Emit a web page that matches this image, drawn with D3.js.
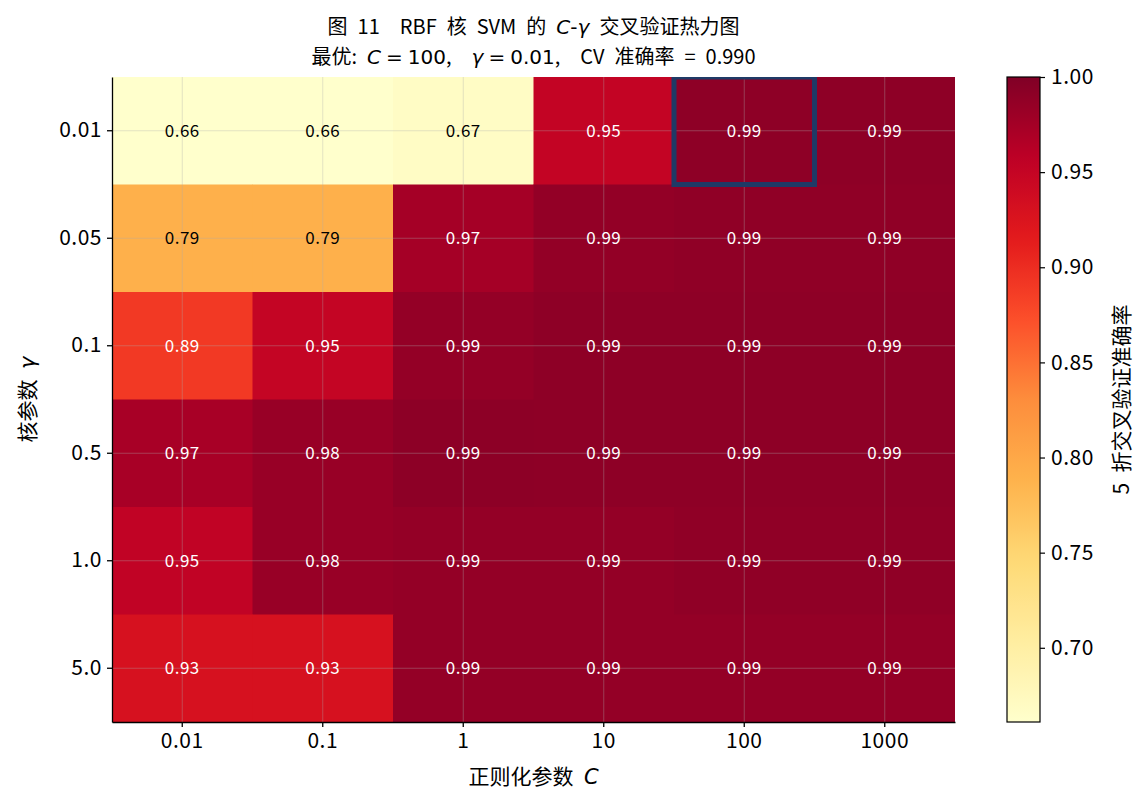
<!DOCTYPE html>
<html>
<head>
<meta charset="utf-8">
<script src="https://cdn.jsdelivr.net/npm/d3@7"></script>
<style>
  body { margin: 0; background: #fff; }
  svg { font-family: "Noto Sans CJK SC", "DejaVu Sans", sans-serif; }
  text { white-space: pre; }
  .math { font-family: "DejaVu Sans", sans-serif; }
</style>
</head>
<body>
<svg id="chart" width="1145" height="805"></svg>
<script>
// regularisation parameter C (columns) and kernel gamma (rows)
var cLabels = ['0.01', '0.1', '1', '10', '100', '1000'];
var gammaLabels = ['0.01', '0.05', '0.1', '0.5', '1.0', '5.0'];

// mean 5-fold CV accuracy, one array per gamma row
var scoreG001 = [0.661, 0.661, 0.668, 0.951, 0.990, 0.990];
var scoreG005 = [0.790, 0.790, 0.974, 0.987, 0.989, 0.989];
var scoreG01  = [0.890, 0.950, 0.986, 0.990, 0.990, 0.990];
var scoreG05  = [0.972, 0.983, 0.991, 0.990, 0.990, 0.990];
var scoreG1   = [0.953, 0.983, 0.986, 0.986, 0.989, 0.989];
var scoreG5   = [0.930, 0.930, 0.986, 0.986, 0.986, 0.986];

var colorbarTicks = [0.70, 0.75, 0.80, 0.85, 0.90, 0.95, 1.00];
var best = { c: '100', gamma: '0.01', score: 0.990 };

var scores = [scoreG001, scoreG005, scoreG01, scoreG05, scoreG1, scoreG5];

function heatmap(id) {

  var svg = d3.select('#' + id),
      margin = { top: 77, right: 190, bottom: 83, left: 112 },
      width = +svg.attr('width') - margin.left - margin.right,
      height = +svg.attr('height') - margin.top - margin.bottom,
      g = svg.append('g').attr('transform', 'translate(' + margin.left + ',' + margin.top + ')');

  var defs = svg.append('defs');
  defs.append('clipPath').attr('id', 'plotclip')
    .append('rect').attr('width', width).attr('height', height);

  var cells = [];
  scores.forEach(function (row, i) {
    row.forEach(function (v, j) {
      cells.push({ gamma: gammaLabels[i], c: cLabels[j], value: v });
    });
  });

  var vmin = d3.min(cells, function (d) { return d.value; }),
      vmax = 1.0;

  // YlOrRd, linear between the nine brewer stops
  var stops = ['#ffffcc', '#ffeda0', '#fed976', '#feb24c', '#fd8d3c', '#fc4e2a', '#e31a1c', '#bd0026', '#800026'];
  var color = d3.scaleLinear()
      .domain(stops.map(function (s, i) { return vmin + (vmax - vmin) * i / (stops.length - 1); }))
      .range(stops)
      .clamp(true);

  var x = d3.scaleBand().domain(cLabels).range([0, width]);
  var y = d3.scaleBand().domain(gammaLabels).range([0, height]);

  var plot = g.append('g').attr('clip-path', 'url(#plotclip)');

  plot.selectAll('rect.cell')
    .data(cells)
    .enter().append('rect')
      .attr('class', 'cell')
      .attr('x', function (d) { return x(d.c); })
      .attr('y', function (d) { return y(d.gamma); })
      .attr('width', x.bandwidth() + 0.5)
      .attr('height', y.bandwidth() + 0.5)
      .attr('fill', function (d) { return color(d.value); });

  // faint grid through cell centres
  var grid = plot.append('g')
      .attr('stroke', '#b0b0b0')
      .attr('stroke-opacity', 0.35)
      .attr('stroke-width', 1);
  grid.selectAll('line.vx')
    .data(cLabels)
    .enter().append('line')
      .attr('x1', function (d) { return x(d) + x.bandwidth() / 2; })
      .attr('x2', function (d) { return x(d) + x.bandwidth() / 2; })
      .attr('y1', 0)
      .attr('y2', height);
  grid.selectAll('line.hy')
    .data(gammaLabels)
    .enter().append('line')
      .attr('y1', function (d) { return y(d) + y.bandwidth() / 2; })
      .attr('y2', function (d) { return y(d) + y.bandwidth() / 2; })
      .attr('x1', 0)
      .attr('x2', width);

  plot.selectAll('text.val')
    .data(cells)
    .enter().append('text')
      .attr('class', 'val')
      .attr('x', function (d) { return x(d.c) + x.bandwidth() / 2; })
      .attr('y', function (d) { return y(d.gamma) + y.bandwidth() / 2; })
      .attr('dy', '0.36em')
      .attr('text-anchor', 'middle')
      .attr('font-size', 17)
      .attr('letter-spacing', 0.5)
      .attr('fill', function (d) { return d.value < 0.85 ? '#000' : '#fff'; })
      .text(function (d) { return d.value.toFixed(2); });

  // best cell outline
  plot.append('rect')
      .attr('x', x(best.c))
      .attr('y', y(best.gamma))
      .attr('width', x.bandwidth())
      .attr('height', y.bandwidth())
      .attr('fill', 'none')
      .attr('stroke', '#1f3a66')
      .attr('stroke-width', 5);

  var xAxis = g.append('g')
      .attr('transform', 'translate(0,' + height + ')')
      .call(d3.axisBottom(x).tickSizeInner(5).tickSizeOuter(0).tickPadding(6));
  var yAxis = g.append('g')
      .call(d3.axisLeft(y).tickSizeInner(5).tickSizeOuter(0).tickPadding(5));

  [xAxis, yAxis].forEach(function (ax) {
    ax.select('.domain').attr('stroke', '#000').attr('stroke-width', 1.3);
    ax.selectAll('.tick line').attr('stroke', '#000').attr('stroke-width', 1.3);
    ax.selectAll('.tick text')
        .attr('fill', '#000')
        .attr('font-size', 21)
        .attr('letter-spacing', 0.5)
        .attr('font-family', '"Noto Sans CJK SC", sans-serif');
  });

  var xl = g.append('text')
      .attr('x', width / 2)
      .attr('y', height + 55)
      .attr('dy', '0.35em')
      .attr('text-anchor', 'middle')
      .attr('font-size', 21)
      .text('正则化参数\u2002');
  xl.append('tspan').attr('class', 'math').attr('font-style', 'italic').text('C');

  var yl = g.append('text')
      .attr('transform', 'translate(' + (-84) + ',' + (height / 2) + ') rotate(-90)')
      .attr('dy', '0.35em')
      .attr('text-anchor', 'middle')
      .attr('font-size', 21)
      .text('核参数\u2002');
  yl.append('tspan').attr('class', 'math').attr('font-style', 'italic').text('γ');

  // title, two lines; mathtext parts in DejaVu Sans
  function mathEq(sel, sym, val) {
    sel.append('tspan').attr('class', 'math').attr('font-style', 'italic').text(sym);
    sel.append('tspan').attr('class', 'math').attr('dx', 5).text('=');
    sel.append('tspan').attr('class', 'math').attr('dx', 5).text(val);
  }

  var t1 = g.append('text')
      .attr('x', width / 2)
      .attr('y', -50)
      .attr('dy', '0.35em')
      .attr('text-anchor', 'middle')
      .attr('font-size', 20)
      .text('图\u200211\u2002\u2002RBF\u2002核\u2002SVM\u2002的\u2002');
  t1.append('tspan').attr('class', 'math').attr('font-style', 'italic').text('C');
  t1.append('tspan').attr('class', 'math').text('-');
  t1.append('tspan').attr('class', 'math').attr('font-style', 'italic').text('γ');
  t1.append('tspan').text('\u2002交叉验证热力图');

  var t2 = g.append('text')
      .attr('x', width / 2)
      .attr('y', -20)
      .attr('dy', '0.35em')
      .attr('text-anchor', 'middle')
      .attr('font-size', 20)
      .text('最优:\u2002');
  mathEq(t2, 'C', best.c);
  t2.append('tspan').text(',\u2002\u2002');
  mathEq(t2, 'γ', best.gamma);
  t2.append('tspan').text(',\u2002\u2002CV\u2002准确率\u2002=\u2002' + best.score.toFixed(3));

  // colorbar
  var cbX = 1007 - margin.left, cbW = 33;
  var cbScale = d3.scaleLinear().domain([vmin, vmax]).range([height, 0]);

  var grad = defs.append('linearGradient')
      .attr('id', 'cbgrad')
      .attr('x1', 0).attr('y1', 1).attr('x2', 0).attr('y2', 0);
  d3.range(0, 1.0001, 0.02).forEach(function (t) {
    grad.append('stop')
        .attr('offset', t)
        .attr('stop-color', color(vmin + (vmax - vmin) * t));
  });

  var cb = g.append('g').attr('transform', 'translate(' + cbX + ',0)');
  cb.append('rect')
      .attr('width', cbW)
      .attr('height', height)
      .attr('fill', 'url(#cbgrad)')
      .attr('stroke', '#000')
      .attr('stroke-width', 1.2);

  var cbAxis = cb.append('g')
      .attr('transform', 'translate(' + cbW + ',0)')
      .call(d3.axisRight(cbScale).tickValues(colorbarTicks).tickSize(5).tickPadding(6)
        .tickFormat(d3.format('.2f')));
  cbAxis.select('.domain').remove();
  cbAxis.selectAll('.tick line').attr('stroke', '#000').attr('stroke-width', 1.2);
  cbAxis.selectAll('.tick text')
      .attr('fill', '#000')
      .attr('font-size', 21)
      .attr('letter-spacing', 0.5)
      .attr('font-family', '"Noto Sans CJK SC", sans-serif');

  cb.append('text')
      .attr('transform', 'translate(' + (cbW + 82) + ',' + (height / 2) + ') rotate(-90)')
      .attr('text-anchor', 'middle')
      .attr('dy', '0.35em')
      .attr('font-size', 21)
      .text('5\u2002折交叉验证准确率');
}

heatmap('chart');
</script>
</body>
</html>
